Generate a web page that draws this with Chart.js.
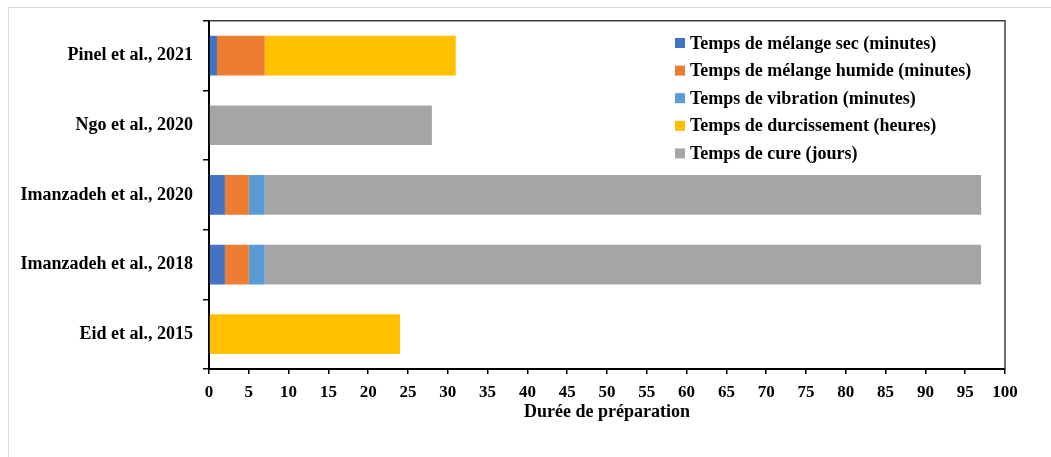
<!DOCTYPE html>
<html>
<head>
<meta charset="utf-8">
<script src="https://cdn.jsdelivr.net/npm/chart.js@4/dist/chart.umd.min.js"></script>
<style>
html,body{margin:0;padding:0;background:#fff;}
#wrap{width:1051px;height:457px;position:relative;}
</style>
</head>
<body>
<div id="wrap"><canvas id="c" width="1051" height="457"></canvas></div>
<script>
const categories = ["Pinel et al., 2021", "Ngo et al., 2020", "Imanzadeh et al., 2020", "Imanzadeh et al., 2018", "Eid et al., 2015"];
const seriesNames = ["Temps de mélange sec (minutes)", "Temps de mélange humide (minutes)", "Temps de vibration (minutes)", "Temps de durcissement (heures)", "Temps de cure (jours)"];
const melangeSec = [1, null, 2, 2, null];
const melangeHumide = [6, null, 3, 3, null];
const vibration = [null, null, 2, 2, null];
const durcissement = [24, null, null, null, 24];
const cure = [null, 28, 90, 90, null];
const seriesColors = ["#4472C4", "#ED7D31", "#5B9BD5", "#FFC000", "#A5A5A5"];
const xTicks = [0,5,10,15,20,25,30,35,40,45,50,55,60,65,70,75,80,85,90,95,100];
const xTitle = "Durée de préparation";

const FONT = "'Liberation Serif', 'Times New Roman', serif";
const seriesValues = [melangeSec, melangeHumide, vibration, durcissement, cure];

const framePlugin = {
  id: 'frame',
  beforeDraw(chart) {
    const ctx = chart.ctx;
    ctx.save();
    ctx.fillStyle = '#fff';
    ctx.fillRect(0, 0, chart.width, chart.height);
    ctx.strokeStyle = '#d9d9d9';
    ctx.lineWidth = 1;
    ctx.beginPath();
    ctx.moveTo(8.5, chart.height);
    ctx.lineTo(8.5, 7.5);
    ctx.lineTo(chart.width, 7.5);
    ctx.stroke();
    ctx.restore();
  },
  afterDraw(chart) {
    const a = chart.chartArea;
    const ctx = chart.ctx;
    ctx.save();
    ctx.strokeStyle = '#404040';
    ctx.lineWidth = 1.5;
    ctx.beginPath();
    ctx.moveTo(a.left, a.top);
    ctx.lineTo(a.right, a.top);
    ctx.lineTo(a.right, a.bottom);
    ctx.stroke();
    // legend
    const ds = chart.data.datasets;
    const x0 = 675, y0 = 43, step = 27.6;
    ctx.font = "bold 18px " + FONT;
    ctx.textBaseline = 'middle';
    ctx.textAlign = 'left';
    ds.forEach((d, i) => {
      const y = y0 + i * step;
      ctx.fillStyle = d.backgroundColor;
      ctx.fillRect(x0, y - 5, 10, 10);
      ctx.fillStyle = '#000';
      ctx.fillText(d.label, x0 + 15, y + 1);
    });
    ctx.restore();
  }
};

new Chart(document.getElementById('c'), {
  type: 'bar',
  data: {
    labels: categories,
    datasets: seriesNames.map((n, i) => ({
      label: n,
      data: seriesValues[i],
      backgroundColor: seriesColors[i],
      borderWidth: 0,
      barPercentage: 0.57,
      categoryPercentage: 1.0
    }))
  },
  options: {
    indexAxis: 'y',
    responsive: false,
    animation: false,
    layout: { padding: { top: 16, right: 46, left: 0, bottom: 34 } },
    plugins: { legend: { display: false }, tooltip: { enabled: false } },
    scales: {
      x: {
        stacked: true,
        min: 0, max: 100,
        afterBuildTicks(scale) { scale.ticks = xTicks.map(v => ({ value: v })); },
        afterFit(scale) { scale.height = 54; },
        border: { color: '#000', width: 2 },
        grid: { drawOnChartArea: false, drawTicks: true, tickLength: 5, color: '#000', lineWidth: 1.5 },
        ticks: { color: '#000', padding: 8, maxRotation: 0, autoSkip: false, font: { family: FONT, size: 17, weight: 'bold' } },
        title: { display: true, text: xTitle, color: '#000', padding: { top: 4, bottom: 0 }, font: { family: FONT, size: 18, weight: 'bold' } }
      },
      y: {
        stacked: true,
        afterFit(scale) { scale.width = 209; },
        border: { color: '#000', width: 2 },
        grid: { drawOnChartArea: false, drawTicks: true, tickLength: 6, color: '#000', lineWidth: 1.5, offset: true },
        ticks: { color: '#000', padding: 10, font: { family: FONT, size: 18, weight: 'bold' } }
      }
    }
  },
  plugins: [framePlugin]
});
</script>
</body>
</html>
